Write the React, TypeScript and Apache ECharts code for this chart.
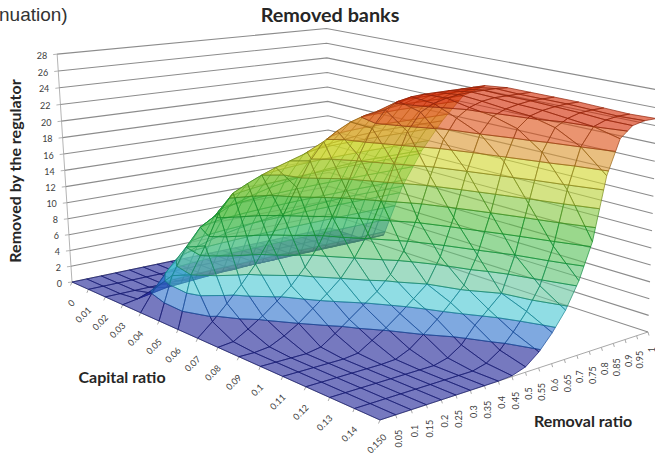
import React, { useEffect, useRef } from "react";
import * as echarts from "echarts";

const capLabels = ["0","0.01","0.02","0.03","0.04","0.05","0.06","0.07","0.08","0.09","0.1","0.11","0.12","0.13","0.14","0.15"];
const removalLabels = ["0","0.05","0.1","0.15","0.2","0.25","0.3","0.35","0.4","0.45","0.5","0.55","0.6","0.65","0.7","0.75","0.8","0.85","0.9","0.95","1"];
const zTicks = [0,2,4,6,8,10,12,14,16,18,20,22,24,26,28];

// Removed banks, one row per capital ratio, one value per removal ratio
const cap00 = [0,0,0,0,0,0,0,0,0,0,0,0,0,0,0,0,0,0,0,0,0];
const cap01 = [0,0,0,0,0,0,0,0,0,0,0,0,0,0,0,0,0,0,0,0,0];
const cap02 = [0,0,0,0,0,0,0,0,0,0,0,0,0,0,0,0,0,0,0,0,0];
const cap03 = [0,0.3,0.6,0.9,1,1.1,1.2,1.3,1.3,1.4,1.4,1.4,1.5,1.5,1.5,1.5,1.5,1.5,1.5,1.5,1.5];
const cap04 = [0,2.5,4.5,5.8,6.5,7,7.4,7.7,8,8.2,8.4,8.6,8.7,8.8,8.9,9,9,9,9,9,9];
const cap05 = [0,5,8,10,11,11.8,12.3,12.8,13.2,13.5,13.8,14,14.2,14.3,14.4,14.5,14.5,14.5,14.5,14.5,14.5];
const cap06 = [0,6,9,12.5,14.5,15.3,16,16.6,17.1,17.6,18,18.4,18.6,18.8,18.9,19,19,19,19,19,19];
const cap07 = [0,1.5,3.2,5,7,9.5,12,15,17.8,19.8,20.8,21.6,22.1,22.4,22.6,22.8,22.8,22.8,22.8,22.8,22.8];
const cap08 = [0,0.2,1.2,2.3,3.6,5,6.8,9,12,15,18.5,21.5,23.4,24.2,24.5,24.6,24.6,24.6,24.6,24.6,24.6];
const cap09 = [0,0,0.2,1,2,3.3,4.6,6,8,10.5,14,18,21.5,23.5,24.3,24.7,24.9,25,25,25,24.9];
const cap10 = [0,0,0,0,0.3,1.4,2.6,3.8,5,6.6,9,12.5,17,21,23.2,24.2,24.7,24.9,24.9,24.9,24.9];
const cap11 = [0,0,0,0,0,0.2,1.2,2.2,3.4,4.7,6,8.8,13,18,22,23.8,24.4,24.7,24.9,24.9,24.9];
const cap12 = [0,0,0,0,0,0,0.1,0.8,2,3.3,4.8,6.4,9.5,14,19.5,23,24.2,24.6,24.8,24.9,24.9];
const cap13 = [0,0,0,0,0,0,0,0,0.4,1.4,3.2,4.6,6,10,15.5,21,23.5,24.3,24.7,24.8,24.8];
const cap14 = [0,0,0,0,0,0,0,0,0,0.4,1.4,3,4.9,7.4,11.5,17.5,22,24,24.5,24.7,24.7];
const cap15 = [0,0,0,0,0,0,0,0,0,0.1,0.6,1.8,3.5,5.6,8.5,12.5,19.5,23.3,24.5,24.8,24.8];
const surface = [cap00,cap01,cap02,cap03,cap04,cap05,cap06,cap07,cap08,cap09,cap10,cap11,cap12,cap13,cap14,cap15];

const bandFill = ["34,39,152","49,116,205","76,200,211","105,199,160","95,195,115","89,194,92","92,192,70","134,200,66","186,210,57","210,215,47","220,152,50","221,82,24","211,44,5","192,5,0"];
const bandLine = ["20,25,110","25,75,150","20,130,145","20,135,100","15,140,70","15,140,50","20,140,40","70,140,30","120,140,30","140,130,30","150,100,20","150,60,20","145,35,10","120,10,5"];
const bandStep = 2;
const fillAlpha = 0.62;
const lineAlpha = 0.68;

// Perspective of the box, taken from its corners in the picture
const floorA = [72, 282], floorB = [380, 420], floorC = [648, 332], floorD = [330, 228];
const topA = [60, 58], topD = [322, 29], topC = [660, 85];
const zMax = 28;

function makeProjection() {
  const [x0, y0] = floorA, [x1, y1] = floorB, [x2, y2] = floorC, [x3, y3] = floorD;
  const dx1 = x1 - x2, dx2 = x3 - x2, sx = x0 - x1 + x2 - x3;
  const dy1 = y1 - y2, dy2 = y3 - y2, sy = y0 - y1 + y2 - y3;
  const det = dx1 * dy2 - dx2 * dy1;
  const g = (sx * dy2 - dx2 * sy) / det, h = (dx1 * sy - sx * dy1) / det;
  const a = x1 - x0 + g * x1, b = x3 - x0 + h * x3, c = x0;
  const d = y1 - y0 + g * y1, e = y3 - y0 + h * y3, f = y0;
  const base = (u: number, v: number) => [a * u + b * v + c, d * u + e * v + f, g * u + h * v + 1];
  const corners: [number, number, number[]][] = [[0, 0, topA], [0, 1, topD], [1, 1, topC]];
  const xs: number[] = [], es: number[] = [], ys: number[] = [], fs: number[] = [];
  corners.forEach(([u, v, t]) => {
    const [nx, ny, dn] = base(u, v);
    xs.push(t[0]); es.push(t[0] * dn - nx);
    ys.push(t[1]); fs.push(t[1] * dn - ny);
  });
  const mx = (xs[0] + xs[1] + xs[2]) / 3, me = (es[0] + es[1] + es[2]) / 3;
  let num = 0, den = 0;
  xs.forEach((x, i) => { num += (x - mx) * (es[i] - me); den += (x - mx) * (x - mx); });
  const pSlope = num / den;
  const r = -pSlope, p = me - mx * pSlope;
  const q = (fs[0] + r * ys[0] + fs[1] + r * ys[1] + fs[2] + r * ys[2]) / 3;
  return (u: number, v: number, z: number) => {
    const w = z / zMax;
    const [nx, ny, dn] = base(u, v);
    const dd = dn + r * w;
    return [(nx + p * w) / dd, (ny + q * w) / dd];
  };
}
const project = makeProjection();
const U = (i: number) => i / (capLabels.length - 1);
const V = (j: number) => j / (removalLabels.length - 1);

type P = [number, number, number];
function clip(poly: P[], level: number, keepAbove: boolean): P[] {
  const out: P[] = [];
  const inside = (q: P) => (keepAbove ? q[2] >= level : q[2] <= level);
  poly.forEach((cur, i) => {
    const nxt = poly[(i + 1) % poly.length];
    const ci = inside(cur), ni = inside(nxt);
    if (ci) out.push(cur);
    if (ci !== ni) {
      const t = (level - cur[2]) / (nxt[2] - cur[2]);
      out.push([cur[0] + t * (nxt[0] - cur[0]), cur[1] + t * (nxt[1] - cur[1]), level]);
    }
  });
  return out;
}
function area(poly: P[]) {
  let s = 0;
  poly.forEach((q, i) => { const n = poly[(i + 1) % poly.length]; s += q[0] * n[1] - n[0] * q[1]; });
  return Math.abs(s) / 2;
}

const cellData: number[][] = [];
for (let i = 0; i < capLabels.length - 1; i++) for (let j = 0; j < removalLabels.length - 1; j++) cellData.push([i, j]);
cellData.sort((m, n) => (m[0] - m[1]) - (n[0] - n[1]));

function renderCell(_: any, api: any) {
  const i = api.value(0), j = api.value(1);
  const vertex = (a: number, b: number): P => {
    const z = surface[a][b];
    const s = project(U(a), V(b), z);
    return [s[0], s[1], z];
  };
  const quad = [vertex(i, j), vertex(i + 1, j), vertex(i + 1, j + 1), vertex(i, j + 1)];
  const children: any[] = [];
  bandFill.forEach((fill, b) => {
    const lo = b * bandStep, hi = lo + bandStep;
    let poly = clip(quad, lo, true);
    if (poly.length >= 3) poly = clip(poly, hi, false);
    if (poly.length < 3 || area(poly) < 0.02) return;
    children.push({
      type: "polygon",
      shape: { points: poly.map((q) => [q[0], q[1]]) },
      style: { fill: `rgba(${fill},${fillAlpha})`, stroke: `rgba(${bandLine[b]},${lineAlpha})`, lineWidth: 1 },
      silent: true,
    });
  });
  return { type: "group", children };
}

function renderWall(_: any, api: any) {
  const z = api.value(0);
  const a = project(0, 0, z), d = project(0, 1, z), c = project(1, 1, z);
  return {
    type: "polyline",
    shape: { points: [a, d, c] },
    style: { fill: "none", stroke: "#8c8c8c", lineWidth: 1.1 },
    silent: true,
  };
}

function buildGraphics() {
  const font = "Lato, 'Open Sans', sans-serif";
  const els: any[] = [];
  const line = (p: number[], q: number[], stroke = "#a8a8a8", w = 1) =>
    els.push({ type: "line", shape: { x1: p[0], y1: p[1], x2: q[0], y2: q[1] }, style: { stroke, lineWidth: w }, silent: true, z: 1 });
  const tickText = { fill: "#404040", font: `9px ${font}` };

  line(project(0, 0, 0), project(0, 0, zMax), "#b4b4b4");
  line(project(0, 0, 0), project(1, 0, 0));
  line(project(1, 0, 0), project(1, 1, 0));

  zTicks.forEach((z) => {
    const s = project(0, 0, z);
    line(s, [s[0] - 4, s[1] + 0.5], "#b4b4b4");
    els.push({ type: "text", x: s[0] - 10, y: s[1] + 1, silent: true, z: 5,
      style: { ...tickText, text: String(z), align: "right", verticalAlign: "middle" } });
  });
  capLabels.forEach((t, i) => {
    const s = project(U(i), 0, 0);
    line(s, [s[0] - 1.5, s[1] + 3.5]);
    els.push({ type: "text", x: s[0] + 1, y: s[1] + 19, rotation: Math.PI / 4, silent: true, z: 5,
      style: { ...tickText, text: t, align: "right", verticalAlign: "middle" } });
  });
  removalLabels.forEach((t, j) => {
    if (j === 0) {
      const s0 = project(1, 0, 0);
      els.push({ type: "text", x: s0[0] + 1, y: s0[1] + 19, rotation: Math.PI / 4, silent: true, z: 5,
        style: { ...tickText, text: t, align: "left", verticalAlign: "middle" } });
      return;
    }
    const s = project(1, V(j), 0);
    line(s, [s[0] + 1, s[1] + 3.5]);
    els.push({ type: "text", x: s[0] + 3, y: s[1] + 15, rotation: Math.PI / 2, silent: true, z: 5,
      style: { ...tickText, text: t, align: "right", verticalAlign: "middle" } });
  });

  const heading = { fill: "#262626", font: `bold 16px ${font}`, align: "center", verticalAlign: "middle" };
  els.push({ type: "text", x: 330, y: 15, scaleX: 1.1, silent: true, style: { ...heading, font: `bold 18px ${font}`, text: "Removed banks" } });
  els.push({ type: "text", x: 122, y: 376, silent: true, style: { ...heading, text: "Capital ratio" } });
  els.push({ type: "text", x: 583, y: 420, silent: true, style: { ...heading, text: "Removal ratio" } });
  els.push({ type: "text", x: 14, y: 171, rotation: Math.PI / 2, silent: true, style: { ...heading, text: "Removed by the regulator" } });
  els.push({ type: "text", x: -1, y: 14, silent: true, style: { fill: "#333333", font: "19px 'Liberation Sans', Arial, sans-serif", text: "nuation)", align: "left", verticalAlign: "middle" } });
  return els;
}

export default function App() {
  const ref = useRef<HTMLDivElement>(null);
  useEffect(() => {
    const chart = echarts.init(ref.current!, null, { renderer: "svg" });
    chart.setOption({
      animation: false,
      backgroundColor: "#ffffff",
      graphic: { elements: buildGraphics() },
      series: [
        { type: "custom", coordinateSystem: "none", silent: true, z: 1, data: zTicks.map((z) => [z]), renderItem: renderWall, clip: false },
        { type: "custom", coordinateSystem: "none", silent: true, z: 2, data: cellData, renderItem: renderCell, clip: false },
      ],
    });
    return () => chart.dispose();
  }, []);
  return <div ref={ref} style={{ position: "fixed", left: 0, top: 0, width: 655, height: 459, overflow: "hidden" }} />;
}
